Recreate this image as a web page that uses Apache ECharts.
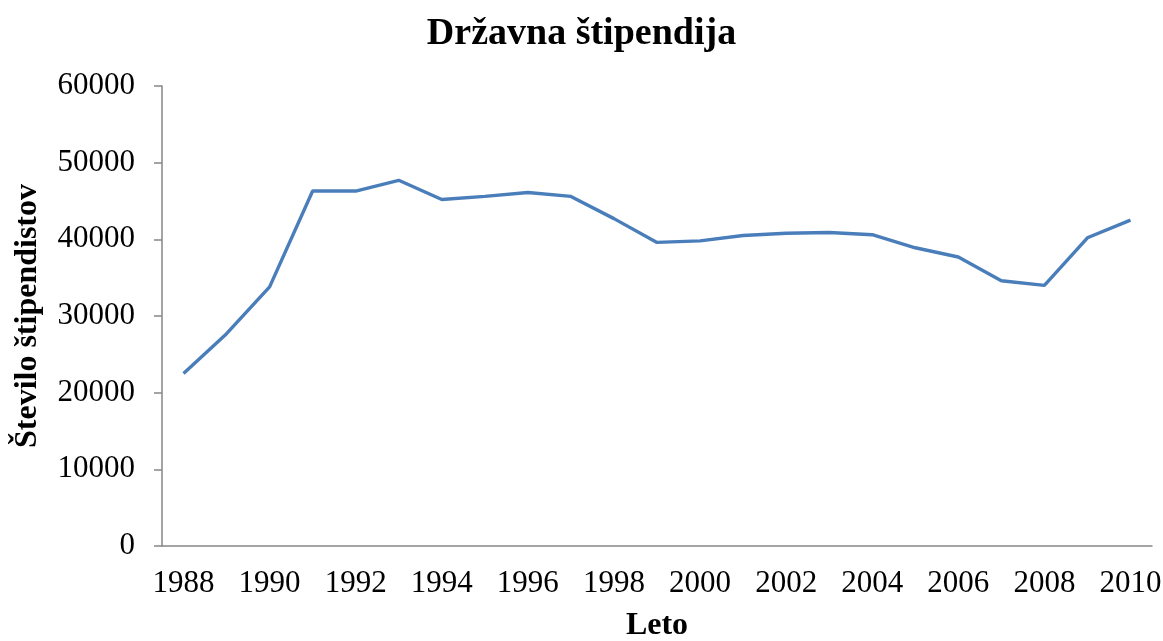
<!DOCTYPE html>
<html>
<head>
<meta charset="utf-8">
<script src="https://cdn.jsdelivr.net/npm/echarts@6/dist/echarts.min.js"></script>
<style>
  html, body { margin: 0; padding: 0; background: #fff; }
  #chart { width: 1163px; height: 641px; }
</style>
</head>
<body>
<div id="chart"></div>
<script>
// leta in število štipendistov
var years = ['1988', '1989', '1990', '1991', '1992', '1993', '1994', '1995', '1996', '1997', '1998', '1999',
             '2000', '2001', '2002', '2003', '2004', '2005', '2006', '2007', '2008', '2009', '2010'];
var stipendisti = [22500, 27700, 33800, 46300, 46300, 47700, 45200, 45600, 46100, 45600, 42700, 39600,
                   39800, 40500, 40800, 40900, 40600, 38900, 37700, 34600, 34000, 40200, 42500];

var font = '"Liberation Serif", "Times New Roman", serif';
var axisColor = '#868686';

var chart = echarts.init(document.getElementById('chart'));
chart.setOption({
  animation: false,
  title: {
    text: 'Državna štipendija',
    left: 'center',
    top: 10,
    textStyle: { fontFamily: font, fontSize: 38, fontWeight: 'bold', color: '#000' }
  },
  grid: {
    left: 162,
    right: 11,
    top: 86,
    bottom: 95,
    outerBoundsMode: 'none'
  },
  xAxis: {
    type: 'category',
    data: years,
    boundaryGap: true,
    name: 'Leto',
    nameLocation: 'middle',
    nameGap: 64,
    nameTextStyle: { fontFamily: font, fontSize: 32, fontWeight: 'bold', color: '#000' },
    axisLine: { lineStyle: { color: axisColor, width: 1.5 } },
    axisTick: { interval: 0, length: 8, lineStyle: { color: axisColor, width: 1.5 } },
    axisLabel: { interval: 1, margin: 22, fontFamily: font, fontSize: 31, color: '#000' },
    splitLine: { show: false }
  },
  yAxis: {
    type: 'value',
    min: 0,
    max: 60000,
    interval: 10000,
    name: 'Število štipendistov',
    nameLocation: 'middle',
    nameGap: 118,
    nameTextStyle: { fontFamily: font, fontSize: 32, fontWeight: 'bold', color: '#000' },
    axisLine: { show: true, lineStyle: { color: axisColor, width: 1.5 } },
    axisTick: { show: true, length: 8, lineStyle: { color: axisColor, width: 1.5 } },
    axisLabel: { margin: 27, fontFamily: font, fontSize: 31, color: '#000', formatter: function (v) { return String(v); } },
    splitLine: { show: false }
  },
  series: [{
    type: 'line',
    data: stipendisti,
    symbol: 'none',
    lineStyle: { color: '#4a7ebb', width: 3.4 }
  }]
});
</script>
</body>
</html>
